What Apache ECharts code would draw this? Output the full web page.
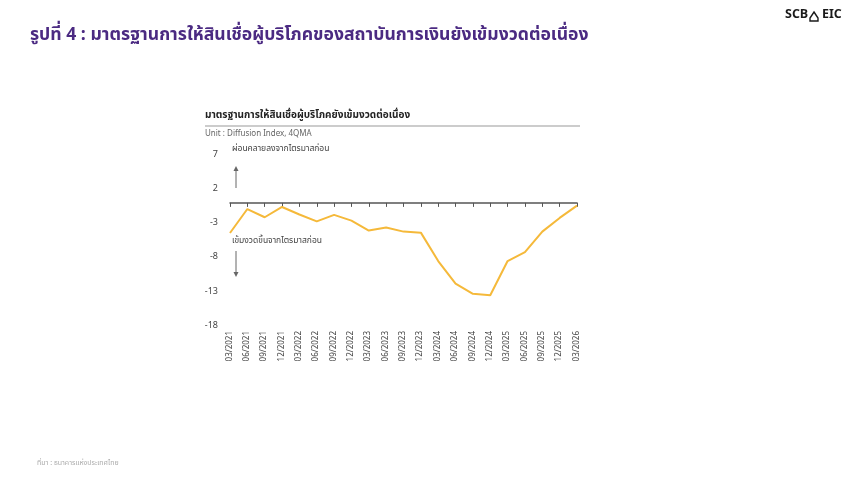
<!DOCTYPE html>
<html>
<head>
<meta charset="utf-8">
<script src="https://cdn.jsdelivr.net/npm/echarts@6/dist/echarts.min.js"></script>
<style>
html,body{margin:0;padding:0;background:#fff;}
#c{width:860px;height:484px;}
</style>
</head>
<body>
<div id="c"></div>
<script>
var categories = ['03/2021','06/2021','09/2021','12/2021','03/2022','06/2022','09/2022','12/2022','03/2023','06/2023','09/2023','12/2023','03/2024','06/2024','09/2024','12/2024','03/2025','06/2025','09/2025','12/2025','03/2026'];
var creditStandard = [-4.4, -0.9, -2.1, -0.6, -1.7, -2.7, -1.75, -2.6, -4.05, -3.6, -4.2, -4.35, -8.5, -11.8, -13.3, -13.5, -8.5, -7.2, -4.2, -2.2, -0.4];
var yTicks = {min: -18, max: 7, interval: 5};

var FONT = '"Noto Sans Thai", "Noto Sans", sans-serif';
var chart = echarts.init(document.getElementById('c'));
chart.setOption({
  backgroundColor: '#fff',
  animation: false,
  textStyle: {fontFamily: FONT},
  grid: {left: 230, right: 283, top: 155, bottom: 158, containLabel: false},
  xAxis: [{
    type: 'category', data: categories, boundaryGap: false, position: 'bottom',
    axisLine: {show: true, onZero: true, lineStyle: {color: '#555', width: 1.5}},
    axisTick: {show: true, length: 4, interval: 0, lineStyle: {color: '#555'}},
    axisLabel: {show: false, interval: 0}, splitLine: {show: false}
  }, {
    type: 'category', data: categories, boundaryGap: false, position: 'bottom',
    axisLine: {show: false, onZero: false}, axisTick: {show: false},
    axisLabel: {show: true, interval: 0, rotate: 90, fontSize: 8, color: '#444', margin: 5, fontFamily: FONT},
    splitLine: {show: false}
  }],
  yAxis: {
    type: 'value', min: yTicks.min, max: yTicks.max, interval: yTicks.interval,
    axisLine: {show: false}, axisTick: {show: false}, splitLine: {show: false},
    axisLabel: {fontSize: 9, color: '#444', margin: 12, fontFamily: FONT}
  },
  series: [{
    type: 'line', data: creditStandard, xAxisIndex: 0, symbol: 'none',
    lineStyle: {color: '#F5B93A', width: 2}
  }],
  graphic: [
    {type: 'text', left: 30, top: 27, style: {text: 'รูปที่ 4 : มาตรฐานการให้สินเชื่อผู้บริโภคของสถาบันการเงินยังเข้มงวดต่อเนื่อง', fill: '#4B2A82', font: 'bold 17.6px ' + FONT}},
    {type: 'text', left: 785, top: 9, style: {text: 'SCB', fill: '#1a1a1a', font: 'bold 12.5px ' + FONT}},
    {type: 'polygon', shape: {points: [[814,12],[818,18],[818,21],[810,21],[810,18]]}, style: {fill: 'none', stroke: '#1a1a1a', lineWidth: 1.4}},
    {type: 'text', left: 822, top: 9, style: {text: 'EIC', fill: '#1a1a1a', font: 'bold 12.5px ' + FONT}},
    {type: 'text', left: 205, top: 111, style: {text: 'มาตรฐานการให้สินเชื่อผู้บริโภคยังเข้มงวดต่อเนื่อง', fill: '#222', font: 'bold 10px ' + FONT}},
    {type: 'line', shape: {x1: 205, y1: 126, x2: 580, y2: 126}, style: {stroke: '#999', lineWidth: 1}},
    {type: 'text', left: 205, top: 130, style: {text: 'Unit : Diffusion Index, 4QMA', fill: '#666', font: '8px ' + FONT}},
    {type: 'text', left: 232, top: 145, style: {text: 'ผ่อนคลายลงจากไตรมาสก่อน', fill: '#444', font: '8.5px ' + FONT}},
    {type: 'line', shape: {x1: 236, y1: 188, x2: 236, y2: 169}, style: {stroke: '#666', lineWidth: 1}},
    {type: 'polygon', shape: {points: [[233.5,171],[236,166],[238.5,171]]}, style: {fill: '#666'}},
    {type: 'text', left: 232, top: 237, style: {text: 'เข้มงวดขึ้นจากไตรมาสก่อน', fill: '#444', font: '8.5px ' + FONT}},
    {type: 'line', shape: {x1: 236, y1: 251, x2: 236, y2: 274}, style: {stroke: '#666', lineWidth: 1}},
    {type: 'polygon', shape: {points: [[233.5,272],[236,277],[238.5,272]]}, style: {fill: '#666'}},
    {type: 'text', left: 37, top: 460, style: {text: 'ที่มา : ธนาคารแห่งประเทศไทย', fill: '#aaa', font: '7px ' + FONT}}
  ]
});
</script>
</body>
</html>
